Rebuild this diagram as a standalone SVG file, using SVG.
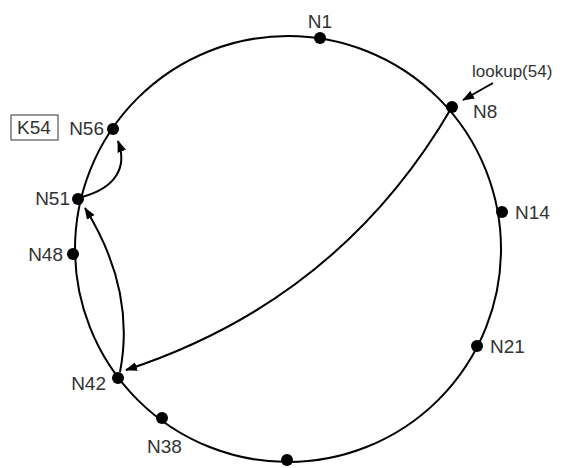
<svg xmlns="http://www.w3.org/2000/svg" width="575" height="468" viewBox="0 0 575 468">
<style>
.lbl{font-family:"Liberation Sans",Arial,sans-serif;font-size:19px;fill:#333}
.end{text-anchor:end}
.dot{fill:#000}
.ring{fill:none;stroke:#000;stroke-width:2}
.arr{fill:none;stroke:#000;stroke-width:2;marker-end:url(#ah)}
</style>
<defs>
<marker id="ah" markerUnits="userSpaceOnUse" markerWidth="12" markerHeight="10" refX="11" refY="4.5" orient="auto">
<path d="M0,0 L12,4.5 L0,9 z" fill="#000"/>
</marker>
</defs>
<rect width="575" height="468" fill="#fff"/>
<circle class="ring" cx="288" cy="249" r="213"/>
<g id="connectors">
<path class="arr" d="M493,83 L463,100"/>
<path class="arr" d="M452,107 Q340,300 126,370"/>
<path class="arr" d="M120,372 Q136,290 85,208"/>
<path class="arr" d="M82,197 C115,188 128,168 118,141"/>
</g>
<g id="N1"><circle class="dot" cx="320" cy="38" r="6"/><text class="lbl" x="320" y="28" text-anchor="middle">N1</text></g>
<g id="N8"><circle class="dot" cx="452" cy="107" r="6"/><text class="lbl" x="473" y="118">N8</text></g>
<g id="lookup"><text class="lbl" x="472" y="77" style="font-size:17px">lookup(54)</text></g>
<g id="N14"><circle class="dot" cx="502" cy="212" r="6"/><text class="lbl" x="515" y="219">N14</text></g>
<g id="N21"><circle class="dot" cx="477" cy="346" r="6"/><text class="lbl" x="490" y="353">N21</text></g>
<g id="N30"><circle class="dot" cx="287" cy="460" r="6"/></g>
<g id="N38"><circle class="dot" cx="162" cy="418" r="6"/><text class="lbl" x="147" y="453">N38</text></g>
<g id="N42"><circle class="dot" cx="118" cy="378" r="6"/><text class="lbl end" x="106" y="390">N42</text></g>
<g id="N48"><circle class="dot" cx="73" cy="254" r="6"/><text class="lbl end" x="63" y="261">N48</text></g>
<g id="N51"><circle class="dot" cx="78" cy="199" r="6"/><text class="lbl end" x="70" y="205">N51</text></g>
<g id="N56"><circle class="dot" cx="113" cy="129" r="6"/><text class="lbl end" x="104" y="135">N56</text></g>
<g id="K54"><rect x="11" y="115" width="47" height="25" fill="none" stroke="#333" stroke-width="1"/><text class="lbl" x="17" y="134">K54</text></g>
</svg>
